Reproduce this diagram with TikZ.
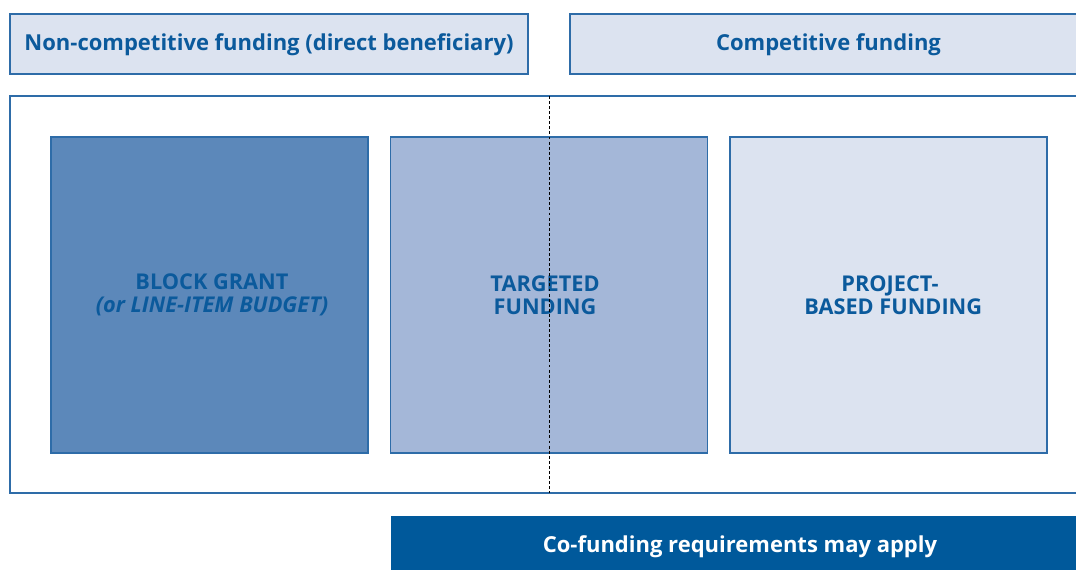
\documentclass[tikz,border=0pt]{standalone}
\usepackage{fontspec}
\setmainfont{Open Sans}
\definecolor{txtblue}{HTML}{0B5A9C}
\definecolor{edgeblue}{HTML}{2E6CA8}
\definecolor{lightfill}{HTML}{DCE3F0}
\definecolor{midfill}{HTML}{A4B7D8}
\definecolor{darkfill}{HTML}{5C88BA}
\definecolor{barfill}{HTML}{00599B}
\newcommand\fsz{\fontsize{16.5}{17.4}\selectfont\bfseries}
\newcommand\bsz{\fontsize{16.3}{17.3}\selectfont\bfseries}
\begin{document}
\begin{tikzpicture}[x=0.75pt,y=-0.75pt,
  hdr/.style={draw=edgeblue,line width=1.3pt,fill=lightfill,inner sep=0pt,
    minimum height={60*0.75pt}},
  fbox/.style={draw=edgeblue,line width=1.1pt,inner sep=0pt,
    minimum width={317*0.75pt},minimum height={316*0.75pt}},
  btext/.style={text=txtblue,align=center,font=\bsz},
  htext/.style={text=txtblue,font=\fsz},
  frame/.style={draw=edgeblue,line width=1.3pt,inner sep=0pt},
  bar/.style={fill=barfill,inner sep=0pt},
  divline/.style={line width=0.7pt,dash pattern=on 2.2pt off 1.6pt,black}]
\useasboundingbox (0,0) rectangle (1076,570);
\clip (0,0) rectangle (1076,570);
% headers
\node[hdr,minimum width={518*0.75pt}] (h1) at (269,44) {};
\node[htext] (h1t) at (269,45) {Non-competitive funding (direct beneficiary)};
\node[hdr,minimum width={540*0.75pt}] (h2) at (840,44) {};
\node[htext] (h2t) at (828.5,45) {Competitive funding};
% outer frame
\node[frame,minimum width={1080*0.75pt},minimum height={397*0.75pt}] (fr) at (550,294.5) {};
% boxes
\node[fbox,fill=darkfill] (b1) at (209.5,295) {};
\node[fbox,fill=midfill] (b2) at (549,295) {};
\node[fbox,fill=lightfill] (b3) at (888.5,295) {};
\node[btext] (b1t) at (212,295) {BLOCK GRANT\\\itshape (or LINE-ITEM BUDGET)};
\node[btext] (b2t) at (545,295) {TARGETED\\FUNDING};
\node[btext] (b3t) at (890,295) {PROJECT-\\\hspace*{0.3em}BASED FUNDING};
% divider
\coordinate (dtop) at (549,96);
\coordinate (dbot) at (549,493);
\draw[divline] (dtop) -- (dbot);
% bottom bar
\node[bar,minimum width={700*0.75pt},minimum height={54*0.75pt}] (bar) at (741,543) {};
\node[text=white,font=\fsz] (bart) at (740,546.5) {Co-funding requirements may apply};
\end{tikzpicture}
\end{document}
